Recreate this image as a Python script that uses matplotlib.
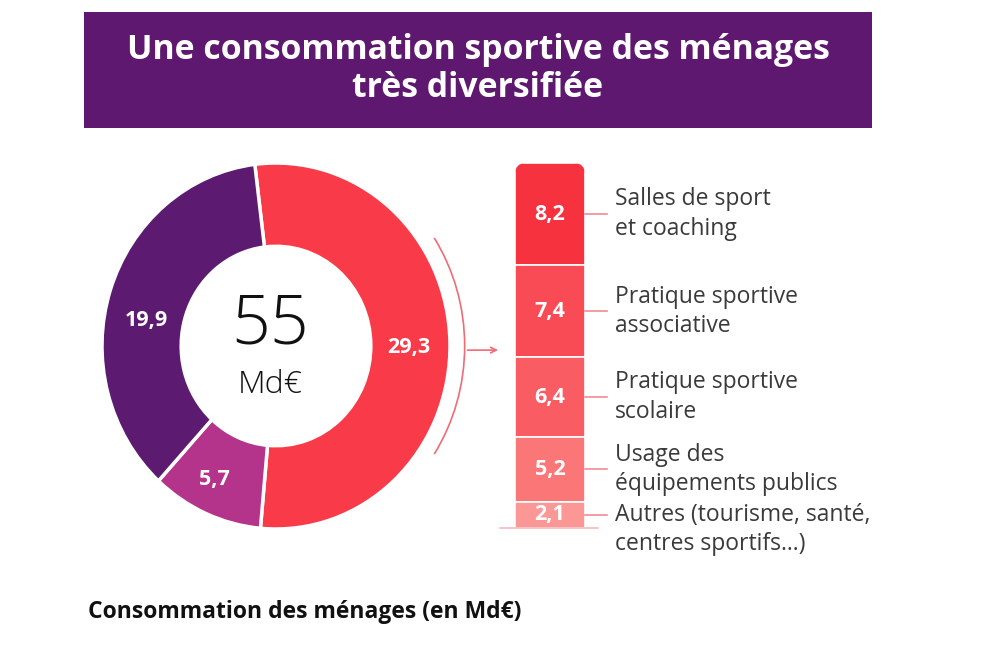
import numpy as np
import matplotlib.pyplot as plt
from matplotlib.patches import Rectangle, Arc, FancyBboxPatch
import matplotlib.transforms as mtransforms

plt.rcParams['font.family'] = ['Open Sans', 'DejaVu Sans']

# donut data
donut_values = [29.3, 5.7, 19.9]
donut_colors = ['#f93a48', '#b3348a', '#5c1a70']
total_label = "55"
unit_label = "Md€"

# breakdown of the 29,3 bar (top to bottom)
bar_values = [8.2, 7.4, 6.4, 5.2, 2.1]
bar_colors = ['#f7323f', '#f84b55', '#f95d63', '#fa7677', '#fb9895']
bar_labels = ["Salles de sport\net coaching",
              "Pratique sportive\nassociative",
              "Pratique sportive\nscolaire",
              "Usage des\néquipements publics",
              "Autres (tourisme, santé,\ncentres sportifs...)"]

title = "Une consommation sportive des ménages\ntrès diversifiée"
caption = "Consommation des ménages (en Md€)"


def fmt(v):
    return f"{v:.1f}".replace('.', ',')


W, H = 995, 650
fig = plt.figure(figsize=(W / 100, H / 100), dpi=100)
fig.patch.set_facecolor('white')

# title banner
fig.add_artist(Rectangle((84 / W, 1 - 128 / H), (872 - 84) / W, (128 - 12) / H,
                         transform=fig.transFigure, facecolor='#5e1870', edgecolor='none'))
fig.text(478 / W, 1 - 69 / H, title, ha='center', va='center', color='white',
         fontsize=24.3, fontweight='bold', linespacing=1.15)

# donut (source image is slightly stretched vertically)
cx, cy, R, r_in = 276, 346, 178, 97
aw, ah = 400 * 174 / 178, 400 * 183 / 178
ax = fig.add_axes([(cx - aw / 2) / W, (H - cy - ah / 2) / H, aw / W, ah / H])
wedges, _ = ax.pie(donut_values, colors=donut_colors, radius=R, startangle=97,
                   counterclock=False,
                   wedgeprops=dict(width=R - r_in, edgecolor='white', linewidth=2.5))
ax.set_xlim(-200, 200)
ax.set_ylim(-200, 200)
ax.set_aspect('auto')
ax.axis('off')

label_offsets = [(-2, -4), (-8, -4), (-2, -17)]
for w, v, off in zip(wedges, donut_values, label_offsets):
    mid = np.deg2rad((w.theta1 + w.theta2) / 2)
    rr = (R + r_in) / 2
    ax.text(rr * np.cos(mid) + off[0], rr * np.sin(mid) + off[1], fmt(v),
            ha='center', va='center', color='white', fontsize=15.5, fontweight='bold')
ax.text(-6, 20, total_label, ha='center', va='center', fontsize=49,
        fontweight='light', color='#111111')
ax.text(-6, -38, unit_label, ha='center', va='center', fontsize=23,
        fontweight='light', color='#111111')

# bracket + arrow
ax.add_patch(Arc((0, 0), 2 * 193, 2 * 193, theta1=-33, theta2=33,
                 color='#ef6b78', lw=1.2, clip_on=False))
ax.annotate('', xy=(230, -4), xytext=(193, -4),
            arrowprops=dict(arrowstyle='->', color='#ef6b78', lw=1.2,
                            mutation_scale=10), annotation_clip=False)

# stacked bar
bx0, bx1, by0, by1 = 515, 585, 163, 528
bax = fig.add_axes([bx0 / W, (H - by1) / H, (bx1 - bx0) / W, (by1 - by0) / H])
bax.set_xlim(-0.5, 0.5)
bax.set_ylim(0, sum(bar_values))
bax.axis('off')

clip = FancyBboxPatch((-0.5, -5), 1, sum(bar_values) + 5,
                      boxstyle='round,pad=0,rounding_size=0.16',
                      mutation_aspect=sum(bar_values) / 365 * 70,
                      transform=bax.transData, facecolor='none', edgecolor='none')
bax.add_patch(clip)

bottom = sum(bar_values)
trans = mtransforms.blended_transform_factory(bax.transAxes, bax.transData)
for v, c, lab in zip(bar_values, bar_colors, bar_labels):
    bottom -= v
    bars = bax.bar(0, v, bottom=bottom, width=1, color=c, edgecolor='white', linewidth=1.2)
    for b in bars:
        b.set_clip_path(clip)
    yc = bottom + v / 2
    bax.text(0, yc, fmt(v), ha='center', va='center', color='white',
             fontsize=15.5, fontweight='bold')
    bax.plot([1.0, 1.31], [yc, yc], color='#f28a92', lw=1.2, transform=trans,
             clip_on=False)
    if v < 3:
        bax.text(1.43, yc + 0.95, lab, transform=trans, ha='left', va='top', fontsize=16.5,
                 color='#3a3a3a', linespacing=1.3)
    else:
        bax.text(1.43, yc, lab, transform=trans, ha='left', va='center', fontsize=16.5,
                 color='#3a3a3a', linespacing=1.3)

bax.plot([-0.21, 1.19], [0, 0], color='#f6b9bd', lw=1.2, transform=trans, clip_on=False)

fig.text(88 / W, 1 - 612 / H, caption, ha='left', va='center', fontsize=16.5,
         fontweight='bold', color='#111111')

fig.savefig('out.png', dpi=100)
